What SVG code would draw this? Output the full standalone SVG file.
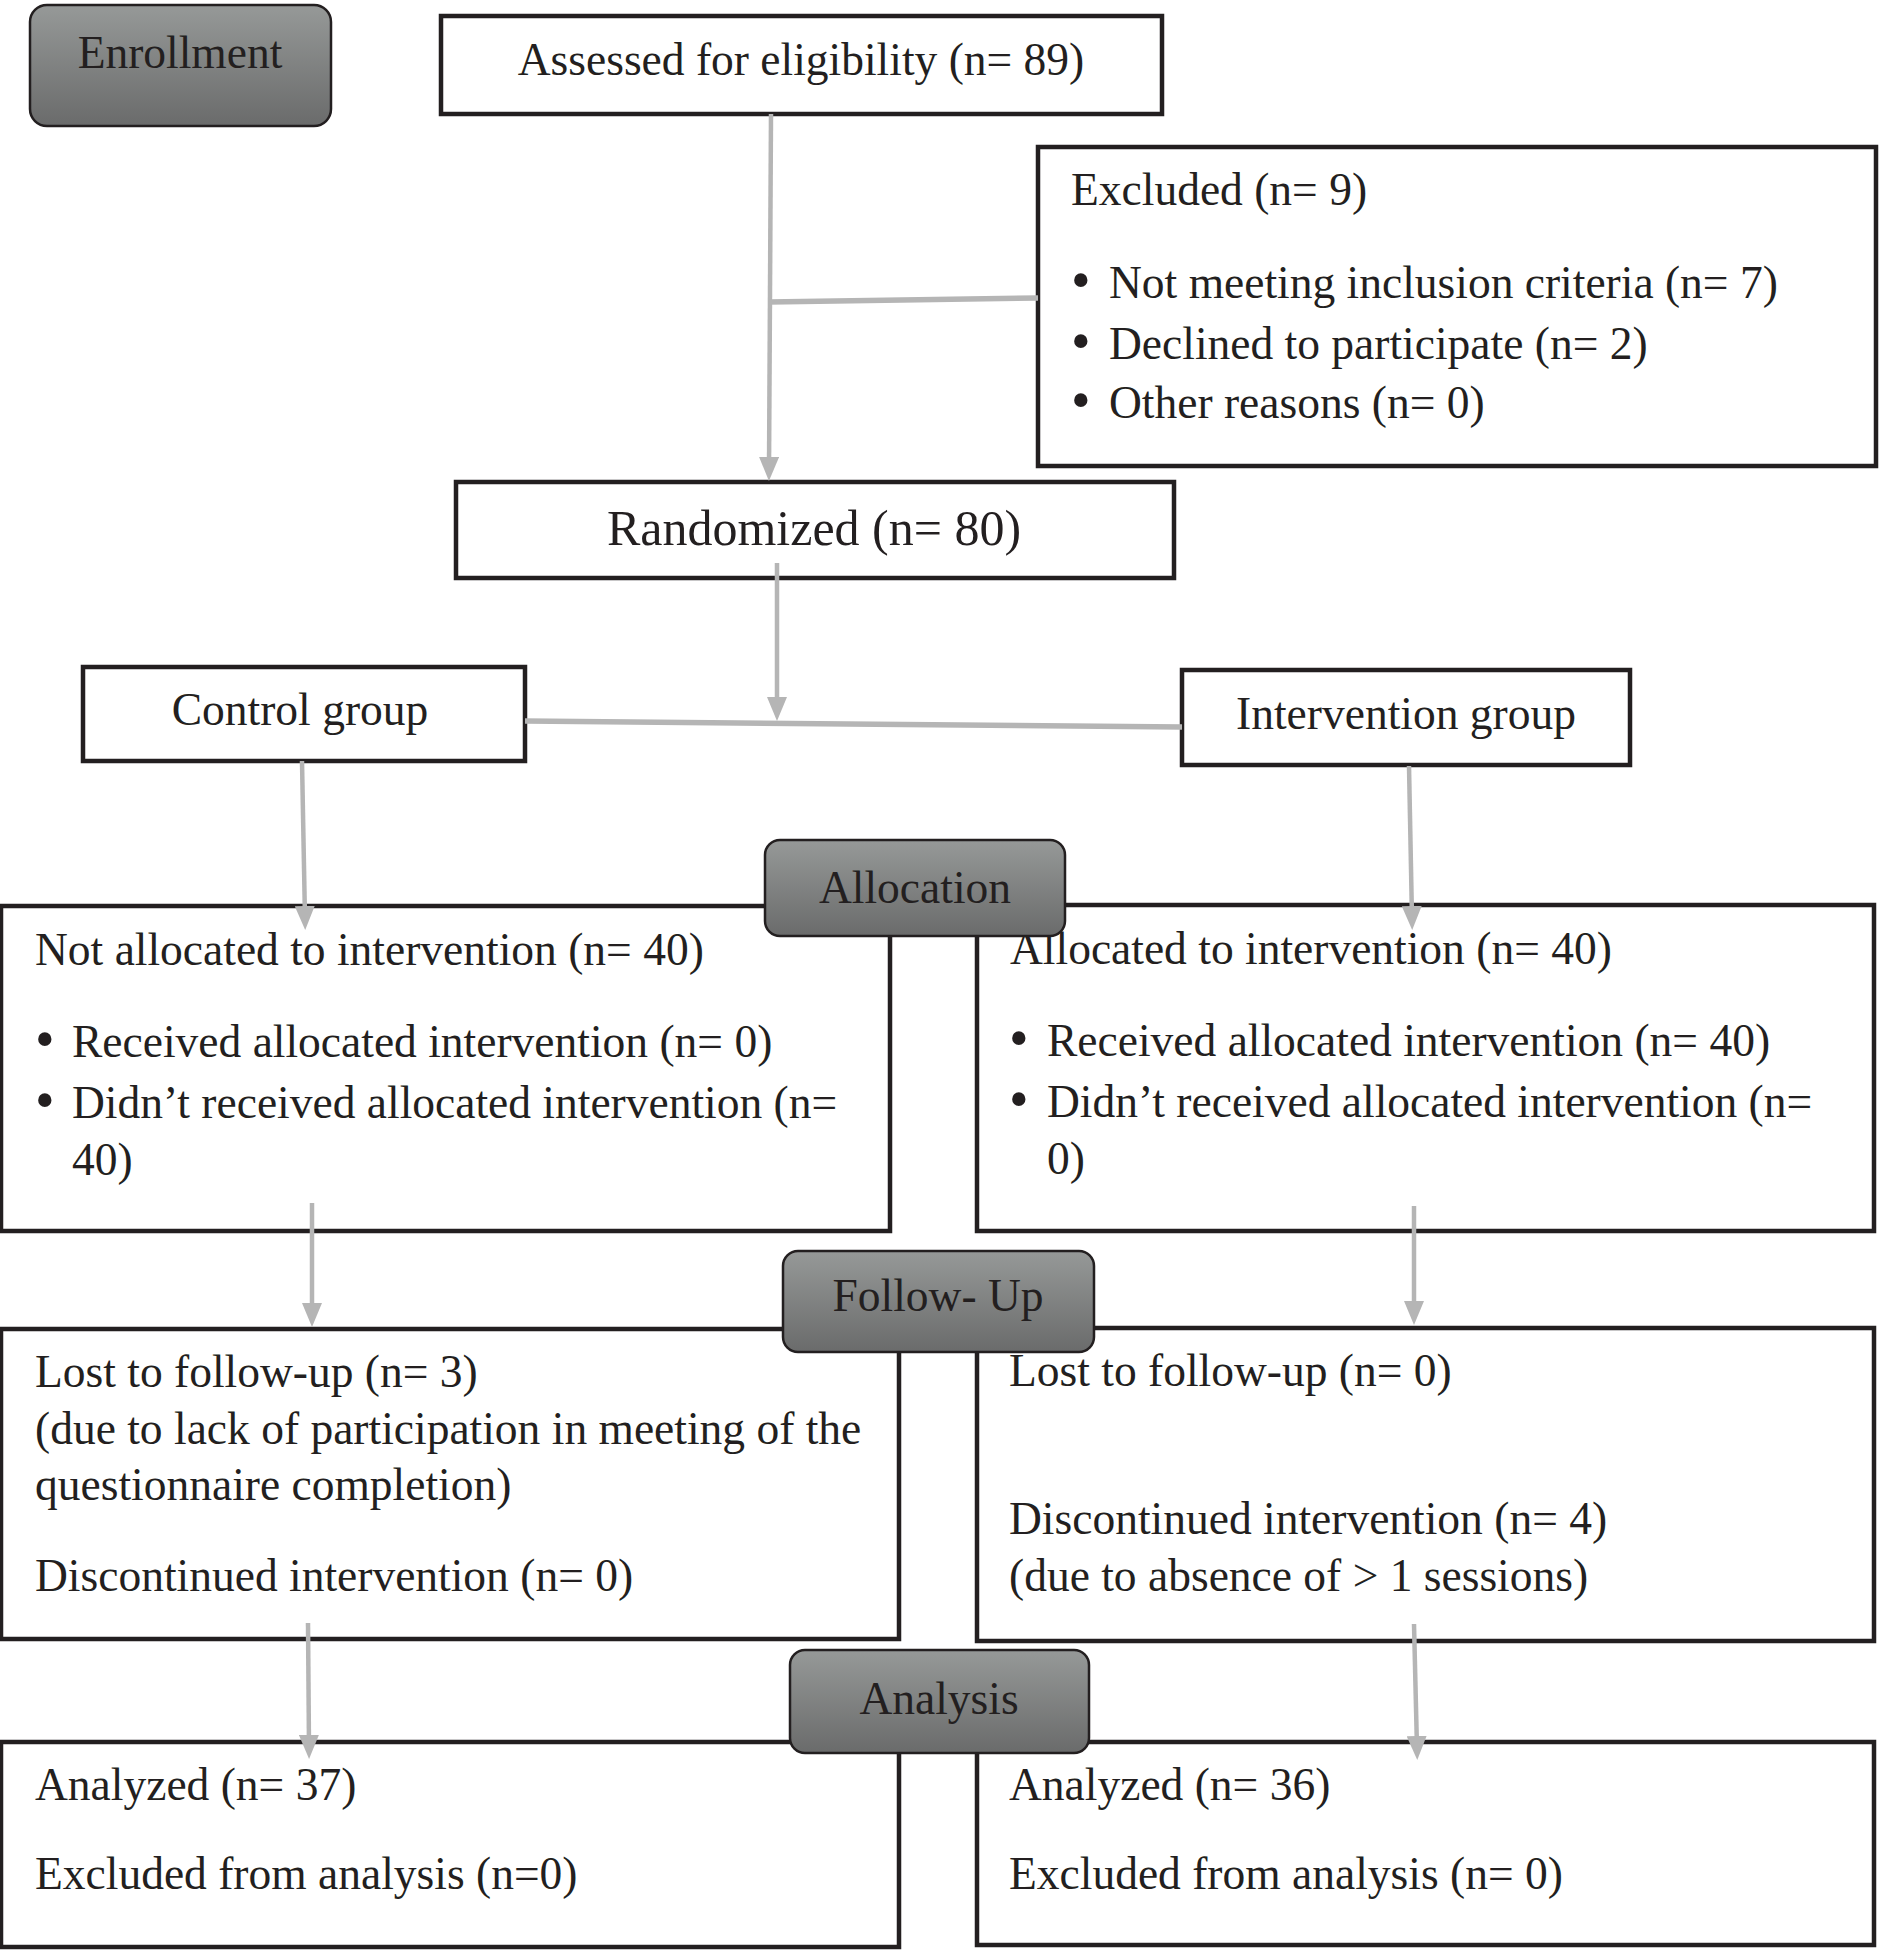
<svg xmlns="http://www.w3.org/2000/svg" width="1879" height="1950" viewBox="0 0 1879 1950">
<style>
.box{fill:#fff;stroke:#231f20;stroke-width:4.5}
.stage{fill:url(#g);stroke:#231f20;stroke-width:2.5}
.t{font-family:"Liberation Serif","Times New Roman",serif;font-size:45.5px;fill:#231f20}
.b{font-size:56px}
.c{text-anchor:middle}
.con{fill:none;stroke:#b5b5b5;stroke-width:4.5}
</style>
<defs>
<linearGradient id="g" x1="0" y1="0" x2="0" y2="1">
<stop offset="0" stop-color="#969998"/>
<stop offset="1" stop-color="#6a6b6b"/>
</linearGradient>
<marker id="a" markerUnits="userSpaceOnUse" markerWidth="24" markerHeight="20" refX="13" refY="10" orient="auto">
<path d="M0,0 L24,10 L0,20 z" fill="#b5b5b5"/>
</marker>
</defs>
<rect width="1879" height="1950" fill="#fff"/>

<g id="assessed"><rect class="box" x="441" y="16" width="721" height="98"/><text class="t c" x="801" y="75">Assessed for eligibility (n= 89)</text></g>
<g id="excluded"><rect class="box" x="1038" y="147" width="838" height="319"/>
<text class="t" x="1071" y="205">Excluded (n= 9)</text>
<text class="t" x="1071" y="299"><tspan class="b">•</tspan><tspan x="1109" dy="-1">Not meeting inclusion criteria (n= 7)</tspan></text>
<text class="t" x="1071" y="360"><tspan class="b">•</tspan><tspan x="1109" dy="-1">Declined to participate (n= 2)</tspan></text>
<text class="t" x="1071" y="419"><tspan class="b">•</tspan><tspan x="1109" dy="-1">Other reasons (n= 0)</tspan></text></g>
<g id="randomized"><rect class="box" x="456" y="482" width="718" height="96"/><text class="t c" x="814" y="545" style="font-size:50px">Randomized (n= 80)</text></g>
<g id="control"><rect class="box" x="83" y="667" width="442" height="94"/><text class="t c" x="300" y="725">Control group</text></g>
<g id="intervention"><rect class="box" x="1182" y="670" width="448" height="95"/><text class="t c" x="1406" y="729">Intervention group</text></g>
<g id="notalloc"><rect class="box" x="1" y="906" width="889" height="325"/>
<text class="t" x="35" y="965">Not allocated to intervention (n= 40)</text>
<text class="t" x="35" y="1058"><tspan class="b">•</tspan><tspan x="72" dy="-1">Received allocated intervention (n= 0)</tspan></text>
<text class="t" x="35" y="1119"><tspan class="b">•</tspan><tspan x="72" dy="-1">Didn’t received allocated intervention (n=</tspan></text>
<text class="t" x="72" y="1175">40)</text></g>
<g id="alloc"><rect class="box" x="977" y="905" width="897" height="326"/>
<text class="t" x="1010" y="964">Allocated to intervention (n= 40)</text>
<text class="t" x="1009" y="1057"><tspan class="b">•</tspan><tspan x="1047" dy="-1">Received allocated intervention (n= 40)</tspan></text>
<text class="t" x="1009" y="1118"><tspan class="b">•</tspan><tspan x="1047" dy="-1">Didn’t received allocated intervention (n=</tspan></text>
<text class="t" x="1047" y="1174">0)</text></g>
<g id="lost-left"><rect class="box" x="1" y="1329" width="898" height="310"/>
<text class="t" x="35" y="1387">Lost to follow-up (n= 3)</text>
<text class="t" x="35" y="1444">(due to lack of participation in meeting of the</text>
<text class="t" x="35" y="1500">questionnaire completion)</text>
<text class="t" x="35" y="1591">Discontinued intervention (n= 0)</text></g>
<g id="lost-right"><rect class="box" x="977" y="1328" width="897" height="313"/>
<text class="t" x="1009" y="1386">Lost to follow-up (n= 0)</text>
<text class="t" x="1009" y="1534">Discontinued intervention (n= 4)</text>
<text class="t" x="1009" y="1591">(due to absence of &gt; 1 sessions)</text></g>
<g id="analyzed-left"><rect class="box" x="1" y="1742" width="898" height="205"/>
<text class="t" x="35" y="1800">Analyzed (n= 37)</text>
<text class="t" x="35" y="1889">Excluded from analysis (n=0)</text></g>
<g id="analyzed-right"><rect class="box" x="977" y="1742" width="897" height="203"/>
<text class="t" x="1009" y="1800">Analyzed (n= 36)</text>
<text class="t" x="1009" y="1889">Excluded from analysis (n= 0)</text></g>

<g id="connectors">
<path class="con" d="M771,114 L769,470" marker-end="url(#a)"/>
<path class="con" d="M769,302 L1038,298" style="stroke-width:5.5"/>
<path class="con" d="M777,563 L777,710" marker-end="url(#a)"/>
<path class="con" d="M525,721 L1182,727" style="stroke-width:5.5"/>
<path class="con" d="M302,761 L305,919" marker-end="url(#a)"/>
<path class="con" d="M1409,766 L1412,919" marker-end="url(#a)"/>
<path class="con" d="M312,1203 L312,1316" marker-end="url(#a)"/>
<path class="con" d="M1414,1206 L1414,1314" marker-end="url(#a)"/>
<path class="con" d="M308,1623 L309,1748" marker-end="url(#a)"/>
<path class="con" d="M1414,1624 L1417,1749" marker-end="url(#a)"/>
</g>

<g id="enrollment"><rect class="stage" x="30" y="5" width="301" height="121" rx="17"/><text class="t c" x="180" y="68">Enrollment</text></g>
<g id="allocation"><rect class="stage" x="765" y="840" width="300" height="96" rx="15"/><text class="t c" x="915" y="903">Allocation</text></g>
<g id="followup"><rect class="stage" x="783" y="1251" width="311" height="101" rx="15"/><text class="t c" x="938" y="1311">Follow- Up</text></g>
<g id="analysis"><rect class="stage" x="790" y="1650" width="299" height="103" rx="15"/><text class="t c" x="939" y="1714">Analysis</text></g>
</svg>
